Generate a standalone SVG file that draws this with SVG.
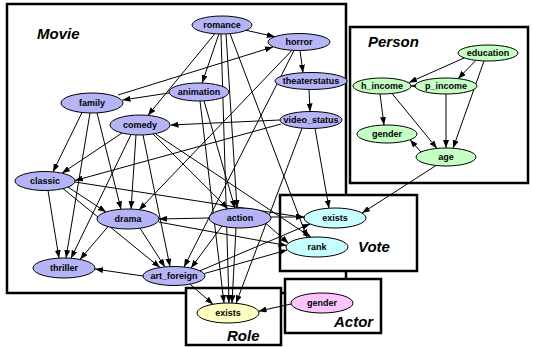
<svg xmlns="http://www.w3.org/2000/svg" width="533" height="347" viewBox="0 0 533 347">
<style>
.box{fill:#fff;stroke:#000;stroke-width:2.5}
.cl{font-family:"Liberation Sans",Arial,sans-serif;font-size:15px;font-weight:bold;font-style:italic;fill:#000}
.n ellipse{stroke:#000;stroke-width:1}
.n text{font-family:"Liberation Sans",Arial,sans-serif;font-size:9px;font-weight:bold;text-anchor:middle;fill:#000}
.mv ellipse{fill:#b4b4f6}
.vt ellipse{fill:#c8ffff}
.ps ellipse{fill:#c4ffc4}
.rl ellipse{fill:#ffffc4}
.ac ellipse{fill:#ffc4ff}
#edges line{stroke:#000;stroke-width:1;marker-end:url(#ah)}
</style>
<defs>
<marker id="ah" markerUnits="userSpaceOnUse" markerWidth="8" markerHeight="6" refX="8" refY="3" orient="auto">
<path d="M0,0 L8,3 L0,6 z" fill="#000"/>
</marker>
</defs>
<rect width="533" height="347" fill="#fff"/>
<g id="clusters">
<rect class="box" x="7" y="4" width="339" height="289"/>
<rect class="box" x="350" y="27" width="178" height="156"/>
<rect class="box" x="280" y="195" width="137" height="76"/>
<rect class="box" x="186" y="288" width="95" height="57"/>
<rect class="box" x="285" y="279" width="96" height="54"/>
<text class="cl" x="37" y="39">Movie</text>
<text class="cl" x="368" y="47">Person</text>
<text class="cl" x="358" y="252">Vote</text>
<text class="cl" x="227" y="341">Role</text>
<text class="cl" x="334" y="327">Actor</text>
</g>
<g id="edges">
<line x1="246.2" y1="30.3" x2="274.8" y2="36.7"/>
<line x1="218.9" y1="34" x2="202.1" y2="83"/>
<line x1="214.8" y1="33.7" x2="147.9" y2="115.4"/>
<line x1="226" y1="33.8" x2="237" y2="208.2"/>
<line x1="230" y1="33.5" x2="307" y2="237.5"/>
<line x1="221" y1="34" x2="229" y2="303"/>
<line x1="300" y1="50.5" x2="303" y2="72.7"/>
<line x1="309" y1="89.5" x2="310" y2="111.5"/>
<line x1="118" y1="95" x2="273" y2="47"/>
<line x1="169" y1="93" x2="122.5" y2="100"/>
<line x1="204" y1="100.8" x2="235" y2="208.2"/>
<line x1="200" y1="101" x2="224" y2="303.1"/>
<line x1="292" y1="50.3" x2="139" y2="210"/>
<line x1="294" y1="50.5" x2="184" y2="267"/>
<line x1="280" y1="120" x2="170.5" y2="125"/>
<line x1="281" y1="124" x2="75" y2="180.5"/>
<line x1="315" y1="128.4" x2="329" y2="208.2"/>
<line x1="302" y1="128.2" x2="236" y2="303.3"/>
<line x1="82" y1="112.5" x2="53" y2="171.8"/>
<line x1="90" y1="113" x2="66" y2="258"/>
<line x1="97" y1="112.9" x2="121" y2="209.3"/>
<line x1="122" y1="133" x2="62" y2="173.2"/>
<line x1="136" y1="134.9" x2="131" y2="209.1"/>
<line x1="131" y1="134.6" x2="71" y2="258.3"/>
<line x1="143" y1="135" x2="170" y2="266.6"/>
<line x1="153" y1="134" x2="228" y2="208.8"/>
<line x1="156" y1="134.3" x2="311" y2="237.2"/>
<line x1="48" y1="190.5" x2="59" y2="258.1"/>
<line x1="68" y1="187.1" x2="106" y2="212"/>
<line x1="63" y1="188.6" x2="160" y2="267.5"/>
<line x1="75" y1="182" x2="304" y2="217.5"/>
<line x1="108" y1="226.6" x2="80" y2="259.4"/>
<line x1="140" y1="228.2" x2="165" y2="267"/>
<line x1="158.5" y1="222" x2="286.5" y2="245.5"/>
<line x1="209" y1="218" x2="159" y2="219"/>
<line x1="222" y1="226" x2="191" y2="268"/>
<line x1="271" y1="217" x2="304" y2="217"/>
<line x1="266" y1="223.5" x2="288.5" y2="243.3"/>
<line x1="236" y1="228" x2="232" y2="303.1"/>
<line x1="143" y1="276" x2="95" y2="269"/>
<line x1="190" y1="284.1" x2="213" y2="304.3"/>
<line x1="204.5" y1="273.5" x2="287" y2="250"/>
<line x1="200" y1="270.8" x2="310" y2="223.9"/>
<line x1="464" y1="58" x2="409" y2="82.5"/>
<line x1="476" y1="60.3" x2="458" y2="78.7"/>
<line x1="484" y1="61" x2="453" y2="148.2"/>
<line x1="380" y1="94" x2="384" y2="125"/>
<line x1="392" y1="93.5" x2="437" y2="148.4"/>
<line x1="446" y1="94" x2="446" y2="148"/>
<line x1="421" y1="152" x2="410" y2="139.8"/>
<line x1="415" y1="86" x2="411" y2="86"/>
<line x1="436" y1="165.5" x2="362" y2="213.1"/>
<line x1="291" y1="304" x2="258.5" y2="311.2"/>
</g>
<g id="romance" class="n mv"><ellipse cx="222" cy="25" rx="30" ry="9"/><text x="222" y="28.2">romance</text></g>
<g id="horror" class="n mv"><ellipse cx="299" cy="42" rx="31" ry="8.5"/><text x="299" y="45.2">horror</text></g>
<g id="theaterstatus" class="n mv"><ellipse cx="311" cy="81" rx="36" ry="8.5"/><text x="311" y="84.2">theaterstatus</text></g>
<g id="video_status" class="n mv"><ellipse cx="311" cy="120" rx="31" ry="8.5"/><text x="311" y="123.2">video_status</text></g>
<g id="animation" class="n mv"><ellipse cx="199" cy="92" rx="30" ry="9"/><text x="199" y="95.2">animation</text></g>
<g id="family" class="n mv"><ellipse cx="92" cy="103" rx="31" ry="10"/><text x="92" y="106.2">family</text></g>
<g id="comedy" class="n mv"><ellipse cx="140" cy="125" rx="30" ry="10"/><text x="140" y="128.2">comedy</text></g>
<g id="classic" class="n mv"><ellipse cx="45" cy="181" rx="30" ry="9.5"/><text x="45" y="184.2">classic</text></g>
<g id="drama" class="n mv"><ellipse cx="128" cy="219" rx="31" ry="10"/><text x="128" y="222.2">drama</text></g>
<g id="thriller" class="n mv"><ellipse cx="64" cy="268" rx="31" ry="10"/><text x="64" y="271.2">thriller</text></g>
<g id="art_foreign" class="n mv"><ellipse cx="174" cy="276" rx="31" ry="9.5"/><text x="174" y="279.2">art_foreign</text></g>
<g id="action" class="n mv"><ellipse cx="240" cy="218" rx="31" ry="10"/><text x="240" y="221.2">action</text></g>
<g id="vote_exists" class="n vt"><ellipse cx="335" cy="218" rx="31" ry="10"/><text x="335" y="221.2">exists</text></g>
<g id="rank" class="n vt"><ellipse cx="317" cy="247" rx="31" ry="10"/><text x="317" y="250.2">rank</text></g>
<g id="role_exists" class="n rl"><ellipse cx="228" cy="313" rx="31" ry="10"/><text x="228" y="316.2">exists</text></g>
<g id="actor_gender" class="n ac"><ellipse cx="322" cy="303" rx="31" ry="10"/><text x="322" y="306.2">gender</text></g>
<g id="education" class="n ps"><ellipse cx="488" cy="53" rx="30" ry="8"/><text x="488" y="56.2">education</text></g>
<g id="h_income" class="n ps"><ellipse cx="382" cy="86" rx="29" ry="8"/><text x="382" y="89.2">h_income</text></g>
<g id="p_income" class="n ps"><ellipse cx="446" cy="86" rx="31" ry="8"/><text x="446" y="89.2">p_income</text></g>
<g id="person_gender" class="n ps"><ellipse cx="387" cy="134" rx="30" ry="9"/><text x="387" y="137.2">gender</text></g>
<g id="age" class="n ps"><ellipse cx="446" cy="157" rx="30" ry="9"/><text x="446" y="160.2">age</text></g>
</svg>
